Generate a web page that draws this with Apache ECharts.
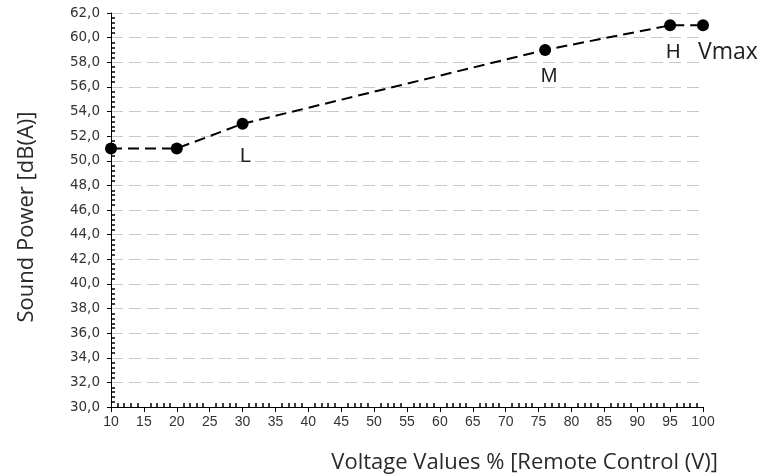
<!DOCTYPE html>
<html>
<head>
<meta charset="utf-8">
<script src="https://cdn.jsdelivr.net/npm/echarts@6/dist/echarts.min.js"></script>
<style>
  html, body { margin: 0; padding: 0; background: #fff; }
  #chart { width: 763px; height: 474px; }
</style>
</head>
<body>
<div id="chart"></div>
<script>
// voltage % (x) and sound power dB(A) (y)
const voltage = [10, 20, 30, 76, 95, 100];
const soundPower = [51, 51, 53, 59, 61, 61];
const pointLabels = ['', '', 'L', 'M', 'H', 'Vmax'];

const tickFont = '"Liberation Sans", Arial, sans-serif';
const nameFont = '"Open Sans", "Noto Sans", sans-serif';

const chart = echarts.init(document.getElementById('chart'));

// per-label placement tweaks (label text -> [distance, x offset])
const labelPlace = { L: [17, 3], M: [11, 4], H: [11, 3], Vmax: [10, 25] };

const points = voltage.map((v, i) => {
    const lbl = pointLabels[i];
    const pt = { value: [v, soundPower[i]] };
    if (lbl) {
        const p = labelPlace[lbl];
        pt.label = {
            show: true,
            formatter: lbl,
            position: 'bottom',
            distance: p[0],
            offset: [p[1], 0],
            fontFamily: lbl === 'Vmax' ? nameFont : tickFont,
            fontSize: lbl === 'Vmax' ? 23 : 20
        };
    }
    return pt;
});

const baseX = { type: 'value', min: 10, max: 100, interval: 5, position: 'bottom' };
const baseY = { type: 'value', min: 30, max: 62, interval: 2, position: 'left' };

chart.setOption({
    animation: false,
    grid: { left: 111, right: 60, top: 13, bottom: 67 },
    xAxis: [
        Object.assign({}, baseX, {
            name: 'Voltage Values % [Remote Control (V)]',
            nameLocation: 'end',
            nameGap: 0,
            nameTextStyle: {
                fontFamily: nameFont, fontSize: 22, color: '#2a2a2a',
                align: 'right', verticalAlign: 'top', padding: [45, -15, 0, 0]
            },
            axisLine: { lineStyle: { color: '#000', width: 1 } },
            axisTick: { show: true, inside: false, length: 5, lineStyle: { color: '#000' } },
            axisLabel: { fontFamily: tickFont, fontSize: 14, color: '#333', margin: 8 },
            splitLine: { show: false }
        }),
        Object.assign({}, baseX, {
            axisLine: { show: false },
            axisTick: { show: false, inside: true },
            axisLabel: { show: false },
            minorTick: { show: true, splitNumber: 5, length: 4, lineStyle: { color: '#000', width: 1.5 } },
            splitLine: { show: false }
        })
    ],
    yAxis: [
        Object.assign({}, baseY, {
            name: 'Sound Power [dB(A)]',
            nameLocation: 'middle',
            nameGap: 73,
            nameTextStyle: { fontFamily: nameFont, fontSize: 22, color: '#2a2a2a', padding: [0, 14, 0, 0] },
            axisLine: { show: true, lineStyle: { color: '#000', width: 1 } },
            axisTick: { show: true, inside: false, length: 4, lineStyle: { color: '#000' } },
            axisLabel: {
                fontFamily: '"DejaVu Sans", sans-serif', fontSize: 13.5, color: '#333', margin: 11,
                formatter: v => v.toFixed(1).replace('.', ',')
            },
            splitLine: { show: true, lineStyle: { color: '#c8c8c8', type: [12, 6], width: 1 } }
        }),
        Object.assign({}, baseY, {
            axisLine: { show: false },
            axisTick: { show: false, inside: true },
            axisLabel: { show: false },
            minorTick: { show: true, splitNumber: 5, length: 4, lineStyle: { color: '#000', width: 1.5 } },
            splitLine: { show: false }
        })
    ],
    series: [{
        type: 'line',
        data: points,
        symbol: 'circle',
        symbolSize: 12,
        itemStyle: { color: '#000' },
        lineStyle: { color: '#000', width: 2, type: [11, 6] },
        label: { color: '#222' },
        z: 5
    }]
});
</script>
</body>
</html>
